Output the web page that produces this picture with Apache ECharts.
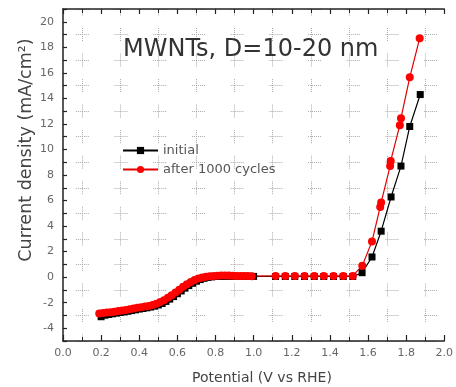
<!DOCTYPE html>
<html>
<head>
<meta charset="utf-8">
<script src="https://cdn.jsdelivr.net/npm/echarts@6/dist/echarts.min.js"></script>
<style>
  html, body { margin: 0; padding: 0; background: #fff; }
  #chart { width: 456px; height: 387px; }
</style>
</head>
<body>
<div id="chart"></div>
<script>
// initial scan (black squares)
const potentialInitial = [
  0.20, 0.22, 0.24, 0.26, 0.28, 0.30, 0.32, 0.34, 0.36, 0.38,
  0.40, 0.42, 0.44, 0.46, 0.48, 0.50, 0.52, 0.54, 0.56, 0.58,
  0.60, 0.62, 0.64, 0.66, 0.68, 0.70, 0.72, 0.74, 0.76, 0.78,
  0.80, 0.82, 0.84, 0.86, 0.88, 0.90, 0.92, 0.94, 0.96, 0.98, 1.00,
  1.115, 1.166, 1.216, 1.267, 1.318, 1.368, 1.419, 1.470, 1.520,
  1.569, 1.621, 1.669, 1.721, 1.773, 1.819, 1.874
];
const currentInitial = [
  -3.10, -2.98, -2.92, -2.87, -2.82, -2.77, -2.72, -2.67, -2.62, -2.56,
  -2.50, -2.45, -2.40, -2.34, -2.27, -2.18, -2.06, -1.90, -1.72, -1.52,
  -1.30, -1.08, -0.86, -0.66, -0.48, -0.32, -0.19, -0.09, -0.02, 0.02,
  0.05, 0.06, 0.06, 0.07, 0.07, 0.07, 0.06, 0.06, 0.06, 0.06, 0.06,
  0.05, 0.05, 0.05, 0.05, 0.05, 0.05, 0.05, 0.05, 0.05,
  0.35, 1.58, 3.60, 6.28, 8.70, 11.80, 14.30
];

// after 1000 cycles (red)
const potentialAfter = [
  0.19, 0.21, 0.23, 0.25, 0.27, 0.29, 0.31, 0.33, 0.35, 0.37,
  0.39, 0.41, 0.43, 0.45, 0.47, 0.49, 0.51, 0.53, 0.55, 0.57,
  0.59, 0.61, 0.63, 0.65, 0.67, 0.69, 0.71, 0.73, 0.75, 0.77,
  0.79, 0.81, 0.83, 0.85, 0.87, 0.89, 0.91, 0.93, 0.95, 0.97, 0.99,
  1.115, 1.166, 1.216, 1.267, 1.318, 1.368, 1.419, 1.470, 1.520,
  1.570, 1.621, 1.664, 1.669, 1.716, 1.719, 1.767, 1.773, 1.819, 1.871
];
const currentAfter = [
  -2.85, -2.80, -2.77, -2.74, -2.70, -2.66, -2.62, -2.58, -2.52, -2.46,
  -2.40, -2.35, -2.30, -2.25, -2.18, -2.08, -1.95, -1.80, -1.62, -1.42,
  -1.20, -0.98, -0.76, -0.56, -0.38, -0.22, -0.10, -0.02, 0.04, 0.08,
  0.10, 0.11, 0.12, 0.12, 0.12, 0.11, 0.10, 0.10, 0.09, 0.09, 0.08,
  0.10, 0.10, 0.10, 0.10, 0.10, 0.10, 0.10, 0.10, 0.10,
  0.90, 2.80, 5.50, 5.85, 8.70, 9.10, 11.90, 12.45, 15.65, 18.70
];

const xTicks = [0, 2.0];
const yRange = [-5, 21];

const FONT = "DejaVu Sans";
const chart = echarts.init(document.getElementById("chart"), null, { renderer: "canvas" });

const dots = [1, 1, 1, 1, 1, 1, 1, 1, 1, 1, 1, 1, 1];

chart.setOption({
  animation: false,
  backgroundColor: "#fff",
  title: {
    text: "MWNTs, D=10-20 nm",
    left: 118,
    top: 33,
    textStyle: { fontFamily: FONT, fontSize: 24, fontWeight: "normal", color: "#333" }
  },
  legend: {
    orient: "vertical",
    left: 117,
    top: 139,
    itemWidth: 35,
    itemHeight: 9,
    itemGap: 6,
    textStyle: { fontFamily: FONT, fontSize: 13, color: "#555" },
    data: ["initial", "after 1000 cycles"]
  },
  grid: { left: 63, top: 9, right: 6, bottom: 46 },
  xAxis: [
    {
      type: "value",
      min: xTicks[0],
      max: xTicks[1],
      interval: 0.2,
      axisLine: { onZero: false, lineStyle: { color: "#222", width: 1.5 } },
      axisTick: { inside: true, length: 6, lineStyle: { color: "#222", width: 1.2 } },
      minorTick: { show: true, splitNumber: 2, length: 4, lineStyle: { color: "#222", width: 1 } },
      splitLine: { show: false },
      minorSplitLine: {
        show: true,
        lineStyle: { color: "#aaa", width: 1, type: dots.concat([12.54]), dashOffset: 6.54 }
      },
      axisLabel: {
        margin: 7,
        fontFamily: FONT,
        fontSize: 11,
        color: "#666",
        formatter: (v) => v.toFixed(1)
      }
    },
    {
      type: "value",
      position: "top",
      min: xTicks[0],
      max: xTicks[1],
      interval: 0.2,
      axisLine: { show: true, onZero: false, lineStyle: { color: "#222", width: 1.5 } },
      axisTick: { inside: true, length: 5, lineStyle: { color: "#222", width: 1.2 } },
      minorTick: { show: true, splitNumber: 2, length: 4, lineStyle: { color: "#222" } },
      splitLine: { show: false },
      axisLabel: { show: false }
    }
  ],
  yAxis: {
    type: "value",
    min: yRange[0],
    max: yRange[1],
    interval: 1,
    axisLine: { show: true, onZero: false, lineStyle: { color: "#222", width: 1.5 } },
    axisTick: { inside: true, length: 4, lineStyle: { color: "#222", width: 1.2 } },
    splitLine: {
      show: true,
      lineStyle: {
        color: ["#aaa", "rgba(0,0,0,0)"],
        width: 1,
        type: dots.concat([25.7]),
        dashOffset: 25.85
      }
    },
    axisLabel: {
      margin: 9,
      fontFamily: FONT,
      fontSize: 11,
      color: "#666",
      formatter: (v) => (Math.round(v) % 2 === 0 ? String(v) : "")
    }
  },
  graphic: [
    {
      type: "text",
      x: 262,
      y: 378,
      style: {
        text: "Potential (V vs RHE)",
        fontFamily: FONT,
        fontSize: 14,
        fill: "#444",
        align: "center",
        verticalAlign: "middle"
      }
    },
    {
      type: "text",
      x: 26,
      y: 150,
      rotation: Math.PI / 2,
      style: {
        text: "Current density (mA/cm²)",
        fontFamily: FONT,
        fontSize: 17.5,
        fill: "#444",
        align: "center",
        verticalAlign: "middle"
      }
    }
  ],
  series: [
    {
      name: "initial",
      type: "line",
      data: potentialInitial.map((x, i) => [x, currentInitial[i]]),
      symbol: "rect",
      symbolSize: 7,
      lineStyle: { color: "#000", width: 1.2 },
      itemStyle: { color: "#000" }
    },
    {
      name: "after 1000 cycles",
      type: "line",
      data: potentialAfter.map((x, i) => [x, currentAfter[i]]),
      symbol: "circle",
      symbolSize: 8,
      lineStyle: { color: "#e00000", width: 1.2 },
      itemStyle: { color: "#ff0000" }
    }
  ]
});
</script>
</body>
</html>
